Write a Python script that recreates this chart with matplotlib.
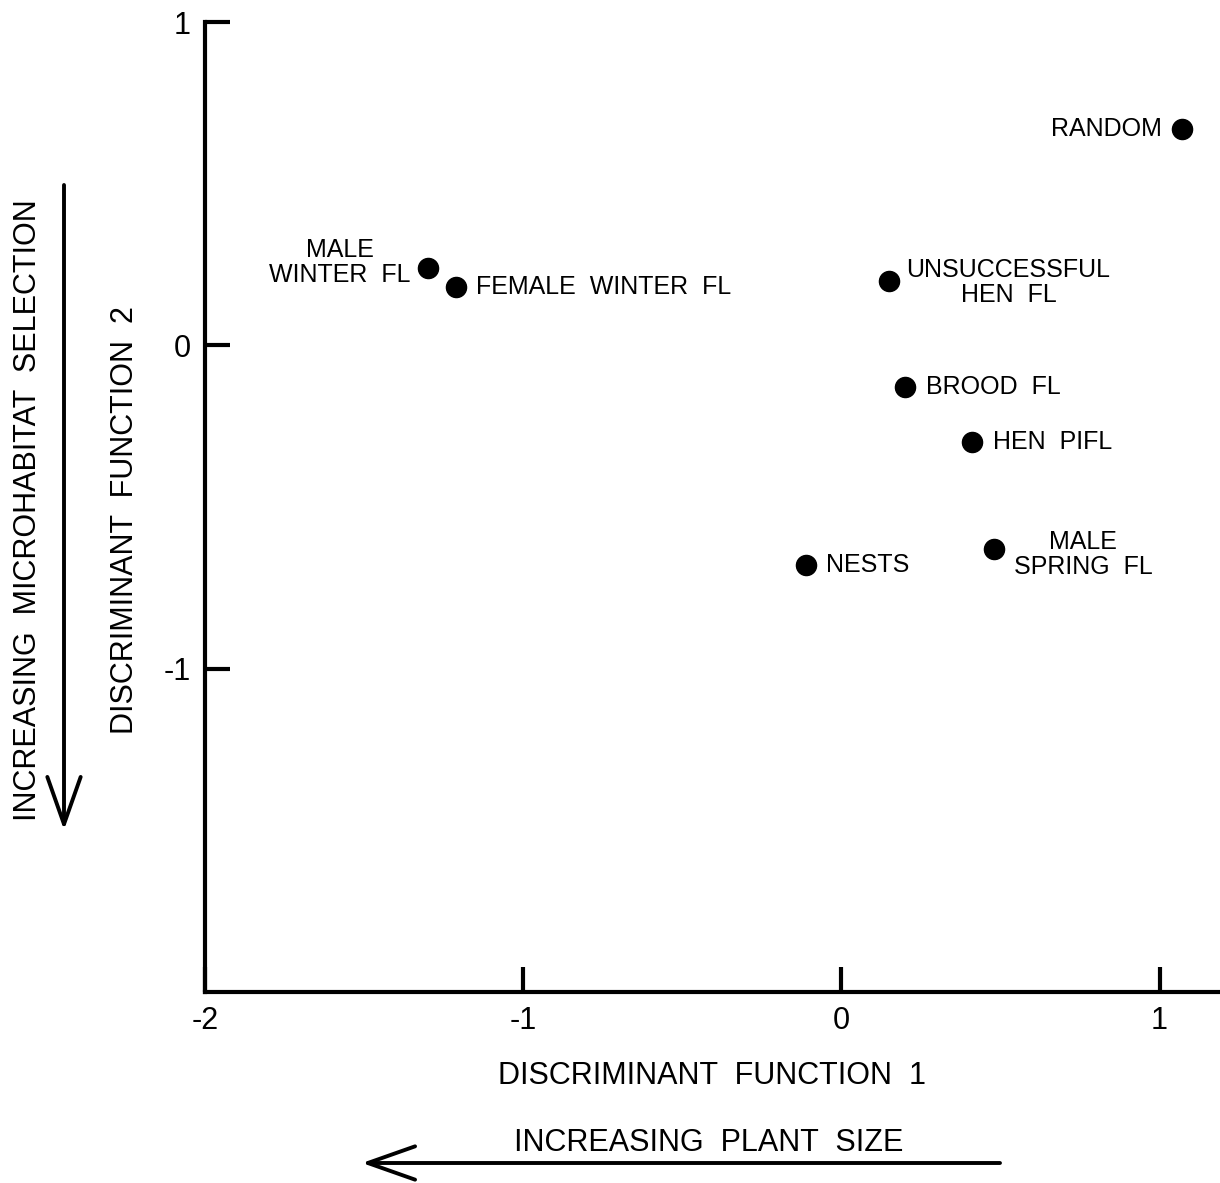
import matplotlib
import matplotlib.pyplot as plt

matplotlib.use("Agg")

plt.rcParams["font.family"] = ["Liberation Sans", "DejaVu Sans"]

# Group centroids on the two discriminant functions
groups = ["RANDOM", "MALE\nWINTER  FL", "FEMALE  WINTER  FL", "UNSUCCESSFUL\nHEN  FL",
          "BROOD  FL", "HEN  PIFL", "MALE\nSPRING  FL", "NESTS"]
df1 = [1.07, -1.30, -1.21, 0.15, 0.20, 0.41, 0.48, -0.11]
df2 = [0.67, 0.24, 0.18, 0.20, -0.13, -0.30, -0.63, -0.68]

x_ticks = [-2, -1, 0, 1]
y_ticks = [-1, 0, 1]

# label placement (offset in points, horizontal alignment)
label_pos = {
    "RANDOM": ((-14, 0), "right"),
    "MALE\nWINTER  FL": ((-63, 4), "center"),
    "FEMALE  WINTER  FL": ((14, 0), "left"),
    "UNSUCCESSFUL\nHEN  FL": ((86, -1), "center"),
    "BROOD  FL": ((15, 0), "left"),
    "HEN  PIFL": ((15, 0), "left"),
    "MALE\nSPRING  FL": ((64, -4), "center"),
    "NESTS": ((14, 0), "left"),
}

fig = plt.figure(figsize=(12.2, 11.83), dpi=100)
ax = fig.add_axes([205 / 1220, 191 / 1183, 1 - 205 / 1220, (992 - 22) / 1183])

ax.scatter(df1, df2, s=210, color="black", zorder=3, clip_on=False)
for name, x, y in zip(groups, df1, df2):
    off, ha = label_pos[name]
    ax.annotate(name, (x, y), xytext=off, textcoords="offset points",
                ha=ha, va="center", multialignment="center", fontsize=18,
                linespacing=1.05)

ax.set_xlim(-2, 1.19)
ax.set_ylim(-2, 1)
ax.set_xticks(x_ticks)
ax.set_yticks(y_ticks)
ax.set_xticklabels([str(t) for t in x_ticks])
ax.set_yticklabels([str(t) for t in y_ticks])
ax.tick_params(direction="in", length=18, width=3, labelsize=22, pad=10)
for side in ["top", "right"]:
    ax.spines[side].set_visible(False)
for side in ["left", "bottom"]:
    ax.spines[side].set_linewidth(3)

# axis titles and direction arrows
fig.text(712 / 1220, 1 - 1076 / 1183, "DISCRIMINANT  FUNCTION  1",
         ha="center", va="center", fontsize=22)
fig.text(709 / 1220, 1 - 1143 / 1183, "INCREASING  PLANT  SIZE",
         ha="center", va="center", fontsize=22)
fig.text(125 / 1220, 1 - 520 / 1183, "DISCRIMINANT  FUNCTION  2",
         ha="center", va="center", rotation=90, fontsize=22)
fig.text(28 / 1220, 1 - 510 / 1183, "INCREASING  MICROHABITAT  SELECTION",
         ha="center", va="center", rotation=90, fontsize=22)

arrow = dict(arrowstyle="->, head_length=1.7, head_width=0.6", lw=2.8,
             color="black", shrinkA=0, shrinkB=0, mutation_scale=20)
fig.add_artist(matplotlib.patches.FancyArrowPatch(
    (1000 / 1220, 1 - 1163 / 1183), (362 / 1220, 1 - 1163 / 1183),
    transform=fig.transFigure, **arrow))
fig.add_artist(matplotlib.patches.FancyArrowPatch(
    (64 / 1220, 1 - 185 / 1183), (64 / 1220, 1 - 830 / 1183),
    transform=fig.transFigure, **arrow))

fig.savefig("out.png", dpi=100)
